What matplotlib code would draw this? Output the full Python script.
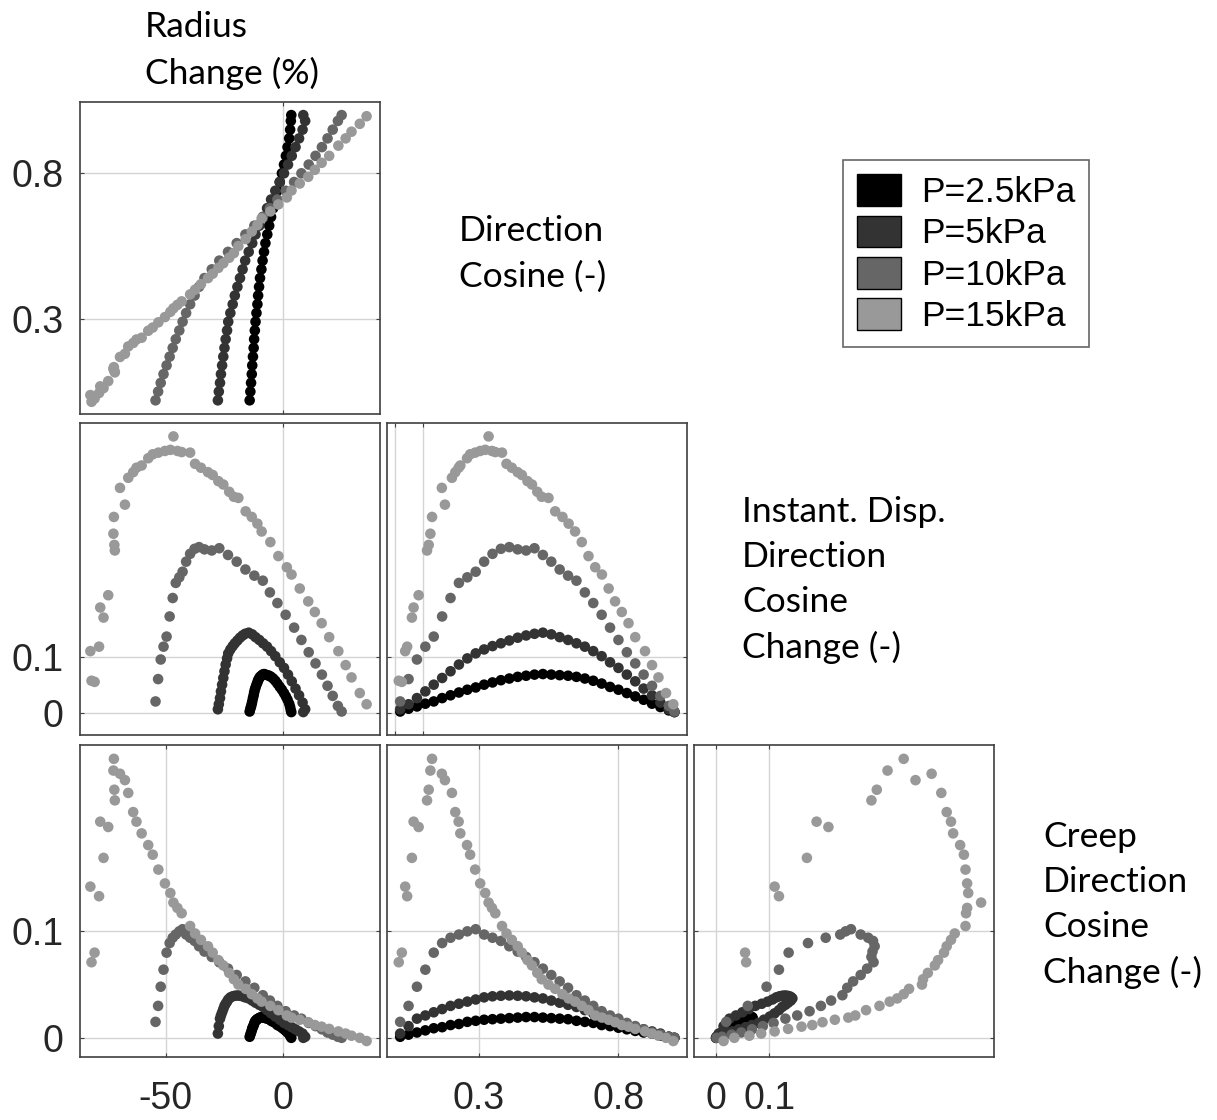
import numpy as np
import matplotlib
matplotlib.use("Agg")
import matplotlib.pyplot as plt
from matplotlib.patches import Patch

# ---- data (one list per variable and pressure) ----
labels = ["P=2.5kPa", "P=5kPa", "P=10kPa", "P=15kPa"]
colors = ["#000000", "#333333", "#666666", "#999999"]

# P = 2.5 kPa
d_25 = [0.02, 0.05, 0.08, 0.11, 0.14, 0.17, 0.20, 0.23, 0.26, 0.29, 0.32, 0.35, 0.38, 0.41, 0.44, 0.47, 0.50,
        0.53, 0.56, 0.59, 0.62, 0.65, 0.68, 0.71, 0.74, 0.77, 0.80, 0.83, 0.86, 0.89, 0.92, 0.95, 0.98, 1.00]
r_25 = [-14.3, -14.0, -13.7, -13.4, -13.2, -12.9, -12.6, -12.4, -12.1, -11.8, -11.4, -11.0, -10.7, -10.3, -9.9,
        -9.3, -8.8, -8.2, -7.6, -6.8, -6.0, -5.2, -4.3, -3.4, -2.5, -1.5, -0.6, 0.3, 1.1, 1.8, 2.5, 2.9, 3.2, 3.4]
i_25 = [0.002, 0.007, 0.011, 0.016, 0.020, 0.026, 0.031, 0.036, 0.041, 0.045, 0.050, 0.054, 0.058, 0.061, 0.064,
        0.066, 0.068, 0.069, 0.068, 0.067, 0.066, 0.064, 0.061, 0.057, 0.052, 0.046, 0.041, 0.035, 0.029, 0.023,
        0.016, 0.010, 0.004, 0.001]
c_25 = [0.001, 0.003, 0.005, 0.007, 0.009, 0.010, 0.012, 0.013, 0.015, 0.016, 0.017, 0.0175, 0.018, 0.0185, 0.019,
        0.0195, 0.0195, 0.019, 0.0185, 0.018, 0.0175, 0.016, 0.015, 0.014, 0.012, 0.011, 0.0095, 0.008, 0.0065,
        0.005, 0.004, 0.002, 0.001, 0.0]

# P = 5 kPa
d_5 = list(d_25)
r_5 = [-27.8, -27.4, -26.9, -26.5, -26.0, -25.5, -25.0, -24.5, -23.9, -23.4, -22.5, -21.5, -20.6, -19.5, -18.4,
       -17.3, -16.2, -14.7, -13.2, -11.8, -10.2, -8.6, -6.9, -5.2, -3.4, -1.5, 0.3, 2.0, 3.6, 5.2, 6.7, 8.2, 9.3, 8.5]
i_5 = [0.006, 0.015, 0.026, 0.038, 0.050, 0.062, 0.074, 0.086, 0.097, 0.106, 0.113, 0.119, 0.124, 0.129, 0.134,
       0.138, 0.141, 0.143, 0.140, 0.135, 0.130, 0.124, 0.118, 0.110, 0.101, 0.090, 0.080, 0.068, 0.056, 0.043,
       0.031, 0.018, 0.006, 0.001]
c_5 = [0.004, 0.011, 0.018, 0.021, 0.024, 0.027, 0.030, 0.032, 0.034, 0.036, 0.038, 0.039, 0.0395, 0.0398, 0.0395,
       0.039, 0.038, 0.037, 0.035, 0.033, 0.031, 0.029, 0.026, 0.023, 0.020, 0.017, 0.014, 0.012, 0.010, 0.008,
       0.006, 0.004, 0.001, 0.0]

# P = 10 kPa
d_10 = list(d_25)
r_10 = [-54.3, -53.2, -52.1, -50.9, -49.6, -48.3, -47.0, -45.7, -44.2, -42.8, -41.3, -39.6, -37.7, -35.8, -33.5,
        -30.4, -27.2, -23.5, -19.8, -16.1, -12.3, -8.7, -5.7, -2.5, 1.0, 4.6, 7.7, 10.8, 13.7, 16.4, 18.8, 21.0,
        23.2, 24.8]
i_10 = [0.020, 0.060, 0.095, 0.118, 0.136, 0.172, 0.205, 0.232, 0.242, 0.252, 0.270, 0.284, 0.293, 0.296, 0.292,
        0.290, 0.294, 0.282, 0.270, 0.256, 0.245, 0.236, 0.215, 0.196, 0.175, 0.152, 0.130, 0.108, 0.088, 0.068,
        0.048, 0.030, 0.012, 0.002]
c_10 = [0.015, 0.030, 0.048, 0.064, 0.080, 0.089, 0.094, 0.097, 0.100, 0.102, 0.097, 0.094, 0.091, 0.086, 0.081,
        0.076, 0.071, 0.065, 0.059, 0.053, 0.047, 0.040, 0.035, 0.030, 0.025, 0.021, 0.018, 0.014, 0.011, 0.008,
        0.005, 0.003, 0.001, 0.0]

# P = 15 kPa
d_15 = [0.015, 0.026, 0.038, 0.045, 0.062, 0.068, 0.086, 0.116, 0.122, 0.128, 0.134, 0.169, 0.180, 0.205, 0.217,
        0.229, 0.235, 0.259, 0.270, 0.288, 0.306, 0.324, 0.336, 0.348, 0.360, 0.384, 0.400, 0.419, 0.440, 0.455,
        0.475, 0.491, 0.510, 0.526, 0.550, 0.574, 0.600, 0.622, 0.645, 0.669, 0.693, 0.717, 0.741, 0.765, 0.788,
        0.812, 0.836, 0.860, 0.895, 0.920, 0.943, 0.970, 0.996]
r_15 = [-81.5, -80.2, -82.0, -78.3, -76.4, -77.8, -74.4, -71.6, -71.8, -72.2, -72.0, -69.4, -67.3, -65.9, -63.8,
        -62.4, -60.2, -57.4, -55.5, -53.1, -50.3, -48.0, -46.7, -45.0, -43.2, -39.6, -37.5, -35.0, -32.0, -30.0,
        -27.6, -25.5, -23.0, -21.0, -19.1, -16.0, -13.4, -11.0, -9.2, -5.5, -2.1, 1.5, 3.5, 7.0, 10.6, 13.4, 16.3,
        19.5, 23.4, 26.5, 29.0, 32.5, 35.4]
i_15 = [0.057, 0.055, 0.110, 0.118, 0.170, 0.188, 0.210, 0.290, 0.300, 0.320, 0.350, 0.402, 0.372, 0.420, 0.430,
        0.438, 0.442, 0.455, 0.462, 0.465, 0.468, 0.470, 0.494, 0.468, 0.466, 0.465, 0.445, 0.438, 0.430, 0.425,
        0.414, 0.408, 0.395, 0.386, 0.384, 0.360, 0.350, 0.338, 0.324, 0.305, 0.280, 0.260, 0.247, 0.222, 0.199,
        0.180, 0.160, 0.135, 0.110, 0.085, 0.063, 0.035, 0.015]
c_15 = [0.071, 0.080, 0.142, 0.133, 0.169, 0.203, 0.198, 0.223, 0.233, 0.251, 0.262, 0.248, 0.242, 0.230, 0.212,
        0.203, 0.192, 0.181, 0.172, 0.158, 0.145, 0.136, 0.127, 0.122, 0.117, 0.105, 0.098, 0.092, 0.086, 0.080,
        0.073, 0.068, 0.061, 0.055, 0.050, 0.046, 0.041, 0.037, 0.034, 0.030, 0.026, 0.021, 0.019, 0.017, 0.0147,
        0.012, 0.0105, 0.0084, 0.006, 0.004, 0.002, 0.000, -0.003]

series = [
    {"r": r_25, "d": d_25, "i": i_25, "c": c_25},
    {"r": r_5, "d": d_5, "i": i_5, "c": c_5},
    {"r": r_10, "d": d_10, "i": i_10, "c": c_10},
    {"r": r_15, "d": d_15, "i": i_15, "c": c_15},
]

limits = {"r": (-86.4, 41.1), "d": (-0.027, 1.045), "i": (-0.04, 0.518), "c": (-0.018, 0.275)}

# (row, col, xvar, yvar, xticks, yticks, xlabels?, ylabels?)
panels = [
    (0, 0, "r", "d", [0], [0.3, 0.8], False, True),
    (1, 0, "r", "i", [0], [0, 0.1], False, True),
    (1, 1, "d", "i", [0, 0.1], [0, 0.1], False, False),
    (2, 0, "r", "c", [-50, 0], [0, 0.1], True, True),
    (2, 1, "d", "c", [0.3, 0.8], [0, 0.1], True, False),
    (2, 2, "i", "c", [0, 0.1], [0, 0.1], True, False),
]

W, H = 1217, 1120
col_x = [80, 387, 694]
row_y = [102, 423, 745]
pw, ph = 300, 312

tick_font = "Liberation Sans"
label_font = "Lato"

fig = plt.figure(figsize=(W / 100, H / 100), dpi=100)

for row, col, xv, yv, xt, yt, showx, showy in panels:
    x0 = col_x[col]
    y0 = row_y[row]
    ax = fig.add_axes([x0 / W, 1 - (y0 + ph) / H, pw / W, ph / H])
    for s, colr in zip(series, colors):
        ax.scatter(s[xv], s[yv], s=58, color=colr, edgecolors="none", zorder=3)
    ax.set_xlim(limits[xv])
    ax.set_ylim(limits[yv])
    ax.set_xticks(xt)
    ax.set_yticks(yt)
    ax.set_axisbelow(True)
    ax.grid(True, color="#d4d4d4", linewidth=1.0)
    ax.tick_params(direction="in", length=3, width=0.8, color="#404040",
                   top=True, right=True, labelsize=27, labelcolor="#262626", pad=12)
    if not showx:
        ax.set_xticklabels([])
    else:
        ax.set_xticklabels([("%g" % v) for v in xt], fontfamily=tick_font)
        ax.tick_params(axis="x", pad=17)
    if not showy:
        ax.set_yticklabels([])
    else:
        ax.set_yticklabels([("%g" % v) for v in yt], fontfamily=tick_font)
    for sp in ax.spines.values():
        sp.set_color("#404040")
        sp.set_linewidth(1.2)

# variable names
txt = dict(fontsize=25.5, family=label_font, color="black", ha="left", linespacing=1.5)
fig.text(145 / W, 1 - 11 / H, "Radius\nChange (%)", va="top", **txt)
fig.text(459 / W, 1 - 254 / H, "Direction\nCosine (-)", va="center", **txt)
fig.text(742 / W, 1 - 580 / H, "Instant. Disp.\nDirection\nCosine\nChange (-)", va="center", **txt)
fig.text(1043 / W, 1 - 905 / H, "Creep\nDirection\nCosine\nChange (-)", va="center", **txt)

handles = [Patch(facecolor=c, edgecolor="black", linewidth=1.0) for c in colors]
leg = fig.legend(handles, labels, loc="upper left", bbox_to_anchor=(843 / W, 1 - 160 / H),
                 prop={"family": tick_font, "size": 25.5}, frameon=True, fancybox=False,
                 edgecolor="#404040", handlelength=1.25, handleheight=1.0, handletextpad=0.55,
                 labelspacing=0.18, borderpad=0.4, borderaxespad=0)
leg.get_frame().set_linewidth(1.2)

fig.savefig("out.png", dpi=100)
